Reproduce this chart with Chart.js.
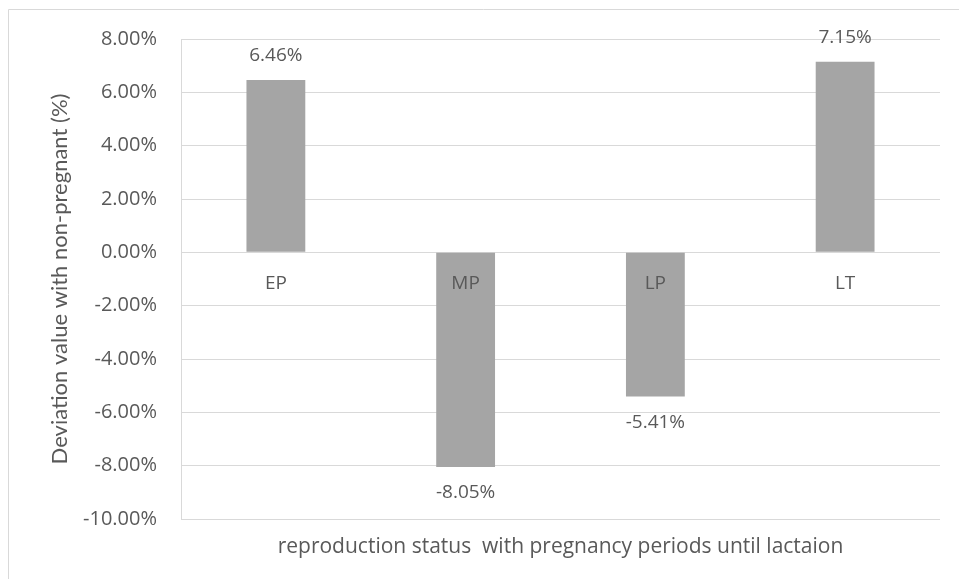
<!DOCTYPE html>
<html>
<head>
<meta charset="utf-8">
<script src="https://cdn.jsdelivr.net/npm/chart.js@4"></script>
<style>
  html, body { margin: 0; padding: 0; background: #fff; }
  #wrap { position: relative; width: 959px; height: 579px; }
</style>
</head>
<body>
<div id="wrap"><canvas id="devChart" width="959" height="579"></canvas></div>
<script>
// deviation from non-pregnant, by reproduction stage
const categories = ['EP', 'MP', 'LP', 'LT'];
const deviation = [6.46, -8.05, -5.41, 7.15];
const yTicks = [8, 6, 4, 2, 0, -2, -4, -6, -8, -10];

const FONT = "'Open Sans', Lato, sans-serif";
const VFONT = "Lato, 'Open Sans', sans-serif";
const TEXT = '#595959';
const GRID = '#d9d9d9';

// outer frame (only top and left edges show in the picture)
const framePlugin = {
  id: 'frame',
  beforeDraw(chart) {
    const c = chart.ctx;
    c.save();
    c.strokeStyle = GRID;
    c.lineWidth = 1;
    c.beginPath();
    c.moveTo(8.5, 579);
    c.lineTo(8.5, 9.5);
    c.lineTo(959, 9.5);
    c.stroke();
    c.restore();
  }
};

// category names sit just under the zero line, value labels next to bar ends
const labelPlugin = {
  id: 'labels',
  afterDatasetsDraw(chart) {
    const c = chart.ctx;
    const x = chart.scales.x;
    const y = chart.scales.y;
    const zero = y.getPixelForValue(0);
    c.save();
    c.font = '19px ' + FONT;
    c.fillStyle = TEXT;
    c.textAlign = 'center';
    c.textBaseline = 'middle';
    categories.forEach((cat, i) => {
      c.fillText(cat, x.getPixelForValue(i), zero + 31);
    });
    const meta = chart.getDatasetMeta(0);
    meta.data.forEach((bar, i) => {
      const v = deviation[i];
      const ty = v >= 0 ? bar.y - 24 : bar.y + 26;
      c.fillText(v.toFixed(2) + '%', bar.x, ty);
    });
    c.restore();
  }
};

new Chart(document.getElementById('devChart'), {
  type: 'bar',
  data: {
    labels: categories,
    datasets: [{
      data: deviation,
      backgroundColor: '#a5a5a5',
      borderWidth: 0,
      categoryPercentage: 1,
      barPercentage: 0.31
    }]
  },
  options: {
    responsive: false,
    animation: false,
    layout: { padding: { left: 30, right: 19, top: 39, bottom: 0 } },
    plugins: {
      legend: { display: false },
      tooltip: { enabled: false }
    },
    scales: {
      x: {
        grid: { display: false, drawTicks: false },
        border: { display: false },
        ticks: { display: false },
        title: {
          display: true,
          text: 'reproduction status  with pregnancy periods until lactaion',
          color: TEXT,
          font: { family: FONT, size: 21 },
          padding: { top: 0, bottom: 19 }
        },
        afterFit(scale) { scale.height = 60; }
      },
      y: {
        min: -10,
        max: 8,
        afterBuildTicks(scale) {
          scale.ticks = yTicks.map(v => ({ value: v }));
        },
        grid: { color: GRID, drawTicks: false },
        border: { display: true, color: GRID },
        ticks: {
          color: TEXT,
          padding: 24,
          font: { family: FONT, size: 20 },
          callback: v => v.toFixed(2) + '%'
        },
        title: {
          display: true,
          text: 'Deviation value with non-pregnant (%)',
          color: TEXT,
          font: { family: VFONT, size: 22 },
          padding: { top: 17, bottom: 0 }
        },
        afterFit(scale) { scale.width = 151; }
      }
    }
  },
  plugins: [framePlugin, labelPlugin]
});
</script>
</body>
</html>
